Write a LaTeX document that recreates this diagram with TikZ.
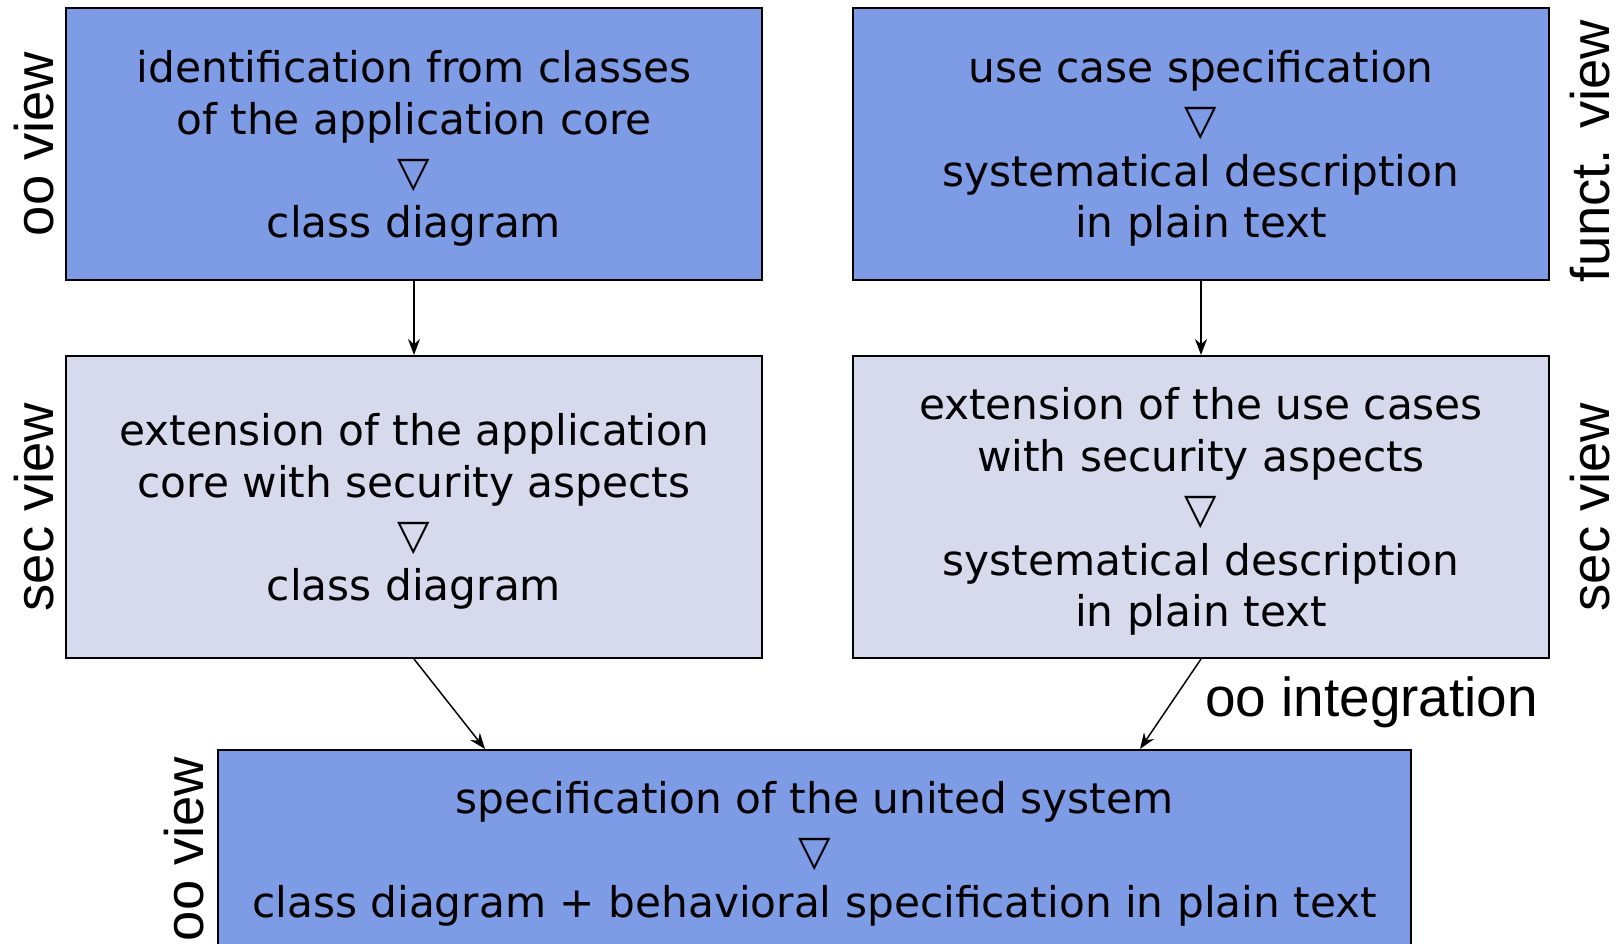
\documentclass[tikz,border=0pt]{standalone}
\usepackage{fontspec}
\setmainfont{DejaVu Sans}
\newfontfamily\labfont{Liberation Sans}
\usetikzlibrary{calc,arrows.meta}
\definecolor{boxblue}{RGB}{126,155,230}
\definecolor{boxlav}{RGB}{215,217,237}
\tikzset{
  box/.style={draw=black, line width=1.5pt, inner sep=0pt, align=center,
    minimum width=522pt, font=\fontsize{31.7pt}{38.8pt}\selectfont},
  bluebox/.style={box, fill=boxblue},
  lavbox/.style={box, fill=boxlav},
  sidelab/.style={inner sep=0pt, rotate=90, font=\labfont\fontsize{40.8pt}{48pt}\selectfont},
  conn/.style={line width=1.1pt, -{Stealth[length=12pt,width=9pt]}}
}
\newcommand{\fl}{\rule{0pt}{31pt}}
\begin{document}
\begin{tikzpicture}[x=0.75pt,y=-0.75pt]
\clip (0,0) rectangle (1619,944);
\fill[white] (0,0) rectangle (1619,944);
\node[bluebox, minimum height=204pt] (b1) at (414,144)
  {\fl identification from classes\\of the application core\\▽\\class diagram};
\node[bluebox, minimum height=204pt] (b2) at (1201,144)
  {\fl use case specification\\▽\\systematical description\\in plain text};
\node[lavbox, minimum height=226.5pt] (b3) at (414,507)
  {\fl extension of the application\\core with security aspects\\▽\\class diagram};
\node[lavbox, minimum height=226.5pt] (b4) at (1201,507)
  {\fl extension of the use cases\\with security aspects\\▽\\systematical description\\in plain text};
\node[bluebox, minimum width=894.75pt, minimum height=148.5pt] (b5) at (814.5,849)
  {\fl specification of the united system\\▽\\class diagram + behavioral specification in plain text};
\node[sidelab] (l1) at (34,144) {oo view};
\node[sidelab] (l2) at (34,507) {sec view};
\node[sidelab] (l3) at (1590,151) {funct. view};
\node[sidelab] (l4) at (1590,507) {sec view};
\node[sidelab] (l5) at (184,849) {oo view};
\node[inner sep=0pt, anchor=west, font=\labfont\fontsize{41.2pt}{48pt}\selectfont] (oi) at (1205,702) {oo integration};
\coordinate (t1) at ($(b5.north west)+(268,0)$);
\coordinate (t2) at ($(b5.north west)+(923,0)$);
\draw[conn] (b1.south) -- (b3.north);
\draw[conn] (b2.south) -- (b4.north);
\draw[conn] (b3.south) -- (t1);
\draw[conn] (b4.south) -- (t2);
\end{tikzpicture}
\end{document}
